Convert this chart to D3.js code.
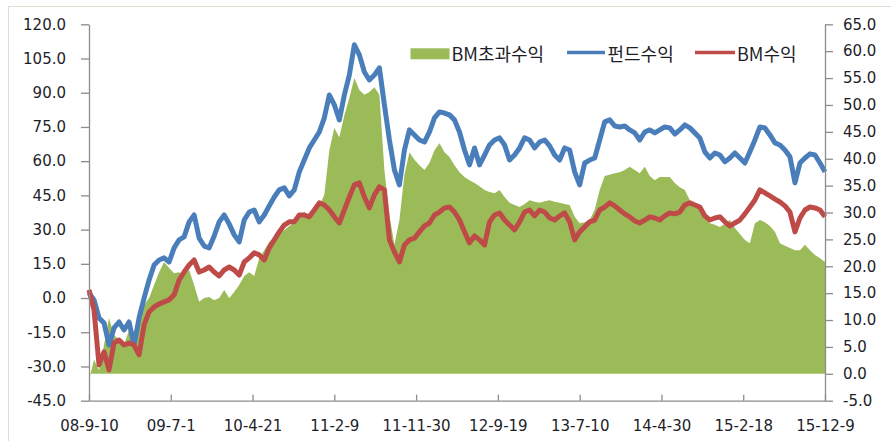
<!DOCTYPE html>
<html>
<head>
<meta charset="utf-8">
<script src="https://cdn.jsdelivr.net/npm/d3@7"></script>
<style>
  body { margin: 0; background: #fff; }
  svg { display: block; }
  .tick text { font-family: "DejaVu Sans", Verdana, sans-serif; font-size: 15px; fill: #1e1e28; }
</style>
</head>
<body>
<svg id="chart" width="891" height="441"></svg>
<script>
// x 축 라벨 날짜 (294일 간격)
const tickDates = ["2008-09-10", "2009-07-01", "2010-04-21", "2011-02-09", "2011-11-30",
                   "2012-09-19", "2013-07-10", "2014-04-30", "2015-02-18", "2015-12-09"]
const leftTicks = [-45, -30, -15, 0, 15, 30, 45, 60, 75, 90, 105, 120]
const rightTicks = [-5, 0, 5, 10, 15, 20, 25, 30, 35, 40, 45, 50, 55, 60, 65]
const seriesNames = ["BM초과수익", "펀드수익", "BM수익"]

// 18일 간격 표본 (왼쪽 축)
const fundReturn = [
  2.2, -0.8, -8.7, -10.9, -20.6, -13.1, -10.5, -14.0, -10.5, -20.6,
  -8.7, 0.0, 7.9, 14.5, 16.7, 17.6, 15.8, 22.0, 25.5, 26.8,
  33.4, 36.4, 26.3, 22.8, 22.0, 27.2, 33.4, 36.4, 32.5, 27.7,
  24.6, 34.2, 37.7, 38.6, 33.4, 36.4, 40.4, 44.3, 47.4, 48.3,
  44.8, 47.4, 55.3, 60.5, 65.8, 69.3, 72.8, 79.0, 89.0, 84.7,
  78.1, 89.0, 97.8, 111.0, 106.6, 99.1, 95.6, 97.8, 100.9, 84.7,
  69.3, 56.2, 49.6, 64.9, 73.7, 71.5, 69.3, 68.4, 72.8, 79.0,
  81.6, 81.1, 80.3, 78.1, 72.8, 64.9, 58.4, 65.8, 58.4, 62.7,
  67.1, 69.3, 70.2, 67.1, 60.5, 62.7, 65.8, 70.2, 69.3, 65.8,
  68.4, 69.3, 66.7, 62.7, 60.5, 65.8, 64.9, 55.3, 49.6, 59.2,
  60.5, 61.4, 69.3, 77.2, 78.1, 75.4, 75.0, 75.4, 73.7, 72.4,
  69.3, 72.8, 73.7, 72.4, 73.7, 75.0, 74.6, 71.9, 73.7, 75.9,
  74.6, 72.4, 70.2, 64.1, 61.4, 63.6, 62.7, 59.7, 61.4, 63.6,
  61.4, 59.2, 64.1, 69.3, 75.0, 74.6, 71.5, 68.0, 67.1, 64.9,
  61.9, 50.5, 59.2, 61.4, 63.2, 62.7, 59.2, 55.3
]
const bmReturn = [
  3.6, -5.2, -29.3, -23.6, -31.5, -19.7, -18.4, -20.6, -19.7, -20.6,
  -24.9, -11.8, -6.1, -3.9, -2.6, -1.7, -0.8, 1.4, 7.9, 11.4,
  14.5, 16.7, 11.4, 12.3, 13.6, 11.4, 9.7, 12.3, 13.6, 12.3,
  10.1, 15.8, 17.6, 19.8, 18.9, 16.7, 22.0, 25.5, 29.0, 32.0,
  33.4, 33.4, 36.4, 36.4, 35.6, 38.6, 41.7, 40.8, 38.6, 35.6,
  32.9, 38.6, 44.3, 49.6, 50.5, 44.3, 39.5, 45.2, 48.7, 47.4,
  25.5, 20.2, 15.8, 23.3, 25.5, 26.3, 29.0, 31.6, 32.9, 36.4,
  37.7, 39.5, 39.9, 37.7, 34.2, 29.0, 24.2, 27.2, 25.5, 23.3,
  33.4, 36.4, 37.3, 34.2, 32.0, 29.9, 33.4, 37.7, 38.6, 36.0,
  38.6, 37.7, 35.1, 34.2, 36.0, 37.3, 33.4, 25.5, 29.0, 31.2,
  33.4, 34.2, 38.6, 39.9, 41.7, 40.4, 38.6, 36.9, 35.6, 33.8,
  32.9, 34.2, 35.6, 35.1, 34.2, 36.0, 37.3, 36.9, 37.7, 40.8,
  41.7, 40.8, 39.9, 36.0, 34.2, 35.1, 35.6, 33.4, 31.6, 32.9,
  34.2, 36.9, 39.9, 43.0, 47.4, 46.1, 44.8, 43.4, 42.1, 40.4,
  37.7, 29.0, 35.1, 38.6, 39.9, 39.5, 38.6, 35.6
]
// 오른쪽 축
const excessReturn = [
  -1.2, 2.6, 0.7, 5.4, 10.4, 7.2, 6.3, 5.4, 8.1, 6.3,
  10.0, 12.8, 14.1, 16.5, 18.9, 20.8, 19.7, 18.7, 18.9, 18.4,
  19.3, 16.5, 13.4, 14.1, 14.3, 13.7, 14.1, 15.6, 14.1, 15.2,
  16.5, 18.2, 18.9, 18.2, 21.5, 23.0, 24.5, 25.3, 26.4, 26.7,
  27.5, 28.2, 29.0, 30.1, 29.3, 30.1, 31.2, 33.3, 41.6, 45.7,
  44.0, 48.1, 51.3, 55.0, 52.8, 51.9, 52.4, 53.3, 51.9, 37.9,
  29.5, 24.0, 28.6, 37.0, 41.2, 39.8, 38.8, 37.9, 39.2, 41.6,
  42.9, 41.2, 40.3, 38.8, 37.5, 36.6, 36.0, 35.5, 34.9, 34.2,
  33.8, 33.6, 34.2, 32.9, 31.8, 31.4, 31.0, 31.6, 32.3, 32.0,
  31.8, 32.1, 32.3, 32.0, 31.8, 31.6, 31.4, 29.2, 28.0, 28.2,
  28.6, 30.5, 34.2, 36.8, 37.0, 37.3, 37.5, 37.9, 38.5, 37.9,
  37.3, 38.5, 36.8, 36.0, 36.6, 36.6, 36.6, 35.5, 34.7, 34.2,
  32.3, 31.8, 30.5, 29.0, 28.0, 27.7, 27.3, 27.9, 28.6, 27.1,
  26.0, 24.9, 24.3, 28.0, 28.6, 28.2, 27.5, 26.4, 24.3, 23.8,
  23.4, 23.0, 23.0, 24.0, 23.0, 22.1, 21.5, 20.8
]

const green = "#9bbb59", blue = "#4a7ebb", red = "#be4b48"

const svg = d3.select("#chart")
const plotLeft = 89, plotRight = 825, plotTop = 24.3, plotBottom = 400.7

const parse = d3.timeParse("%Y-%m-%d")
const start = parse(tickDates[0])
const dates = fundReturn.map((d, i) => d3.timeDay.offset(start, i * 18))

const x = d3.scaleTime()
    .domain([start, parse(tickDates[tickDates.length - 1])])
    .range([plotLeft, plotRight])
const yL = d3.scaleLinear().domain([-45, 120]).range([plotBottom, plotTop])
const yR = d3.scaleLinear().domain([-5, 65]).range([plotBottom, plotTop])

// 바깥 테두리
svg.append("rect")
    .attr("x", 8.5).attr("y", 6.5)
    .attr("width", 1000).attr("height", 1000)
    .attr("fill", "none").attr("stroke", "#e2ddd2")

const area = d3.area()
    .x((d, i) => x(dates[i]))
    .y0(yR(0))
    .y1(d => yR(d))

svg.append("path")
    .datum(excessReturn)
    .attr("d", area)
    .attr("fill", green)

const lineL = d3.line()
    .x((d, i) => x(dates[i]))
    .y(d => yL(d))

svg.append("path")
    .datum(fundReturn)
    .attr("d", lineL)
    .attr("fill", "none")
    .attr("stroke", blue)
    .attr("stroke-width", 5)
    .attr("stroke-linejoin", "round")

svg.append("path")
    .datum(bmReturn)
    .attr("d", lineL)
    .attr("fill", "none")
    .attr("stroke", red)
    .attr("stroke-width", 5)
    .attr("stroke-linejoin", "round")

// 축
const fmt = d => d.toFixed(1)

svg.append("g")
    .attr("transform", `translate(${plotLeft},0)`)
    .call(d3.axisLeft(yL).tickValues(leftTicks).tickFormat(fmt)
        .tickSizeInner(8).tickSizeOuter(0).tickPadding(15))

svg.append("g")
    .attr("transform", `translate(${plotRight},0)`)
    .call(d3.axisRight(yR).tickValues(rightTicks).tickFormat(fmt)
        .tickSizeInner(8).tickSizeOuter(0).tickPadding(10))

svg.append("g")
    .attr("transform", `translate(0,${plotBottom})`)
    .call(d3.axisBottom(x).tickValues(tickDates.map(parse))
        .tickFormat(d3.timeFormat("%y-%-m-%-d"))
        .tickSizeInner(-6).tickSizeOuter(0).tickPadding(20))

svg.selectAll(".domain, .tick line")
    .attr("stroke", "#8c8c8c")
    .attr("stroke-width", 1.3)

// 범례
const legend = svg.append("g")
    .style("font-family", "'Noto Sans CJK KR', sans-serif")
    .style("font-size", "18px")
    .attr("fill", "#1e1e28")

legend.append("rect")
    .attr("x", 410.5).attr("y", 48.3)
    .attr("width", 39).attr("height", 11)
    .attr("fill", green)
legend.append("text").attr("x", 451.5).attr("y", 60.5).text(seriesNames[0])

legend.append("line")
    .attr("x1", 567).attr("x2", 605).attr("y1", 52.5).attr("y2", 52.5)
    .attr("stroke", blue).attr("stroke-width", 3.5)
legend.append("text").attr("x", 607.5).attr("y", 60.5).text(seriesNames[1])

legend.append("line")
    .attr("x1", 695).attr("x2", 735).attr("y1", 52.5).attr("y2", 52.5)
    .attr("stroke", red).attr("stroke-width", 3.5)
legend.append("text").attr("x", 737).attr("y", 60.5).text(seriesNames[2])
</script>
</body>
</html>
